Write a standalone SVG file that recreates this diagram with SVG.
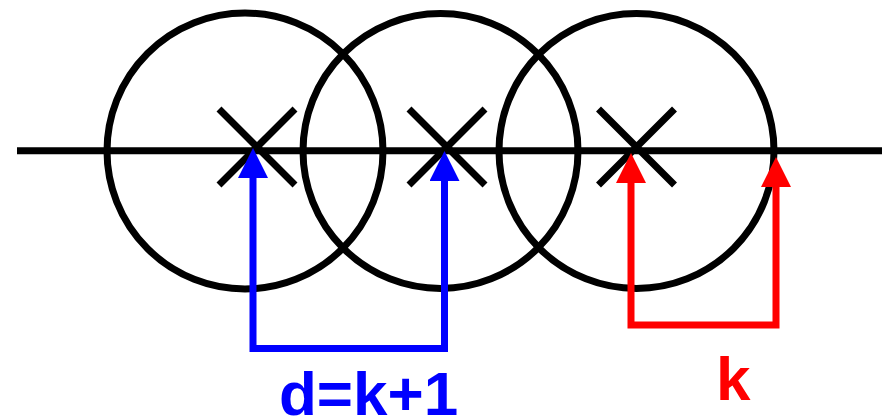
<svg xmlns="http://www.w3.org/2000/svg" width="888" height="417" viewBox="0 0 888 417">
  <style>
    .blk { fill: none; stroke: #000; stroke-width: 7; }
    .conn { fill: none; stroke-width: 7; stroke-linejoin: miter; }
    .blue { stroke: #0000ff; }
    .red { stroke: #ff0000; }
    .lbl { font-family: "Liberation Sans", Arial, sans-serif; font-weight: bold; font-size: 62px; }
  </style>
  <defs>
    <marker id="hb" markerUnits="userSpaceOnUse" markerWidth="30" markerHeight="30" refX="0" refY="15" orient="auto-start-reverse" viewBox="0 0 30 30">
      <path d="M0,0 L30,15 L0,30 z" fill="#0000ff"/>
    </marker>
    <marker id="hr" markerUnits="userSpaceOnUse" markerWidth="30" markerHeight="30" refX="0" refY="15" orient="auto-start-reverse" viewBox="0 0 30 30">
      <path d="M0,0 L30,15 L0,30 z" fill="#ff0000"/>
    </marker>
  </defs>
  <line class="blk" x1="17" y1="150.7" x2="882" y2="150.7"/>
  <g id="circle1">
    <circle class="blk" cx="245" cy="151" r="138"/>
    <path class="blk" d="M219,109 L295,185 M295,109 L219,185"/>
  </g>
  <g id="circle2">
    <circle class="blk" cx="440.5" cy="151" r="137.5"/>
    <path class="blk" d="M409,109 L485,185 M485,109 L409,185"/>
  </g>
  <g id="circle3">
    <circle class="blk" cx="636.5" cy="151" r="137.5"/>
    <path class="blk" d="M598.5,109 L674.5,185 M674.5,109 L598.5,185"/>
  </g>
  <g id="connectors">
    <polyline class="conn blue" points="253,178 253,348.5 444.5,348.5 444.5,181" marker-start="url(#hb)" marker-end="url(#hb)"/>
    <polyline class="conn red" points="631,183 631,325 776,325 776,187" marker-start="url(#hr)" marker-end="url(#hr)"/>
  </g>
  <text class="lbl" x="279" y="415" fill="#0000ff">d=k+1</text>
  <text class="lbl" x="716" y="400" fill="#ff0000">k</text>
</svg>
